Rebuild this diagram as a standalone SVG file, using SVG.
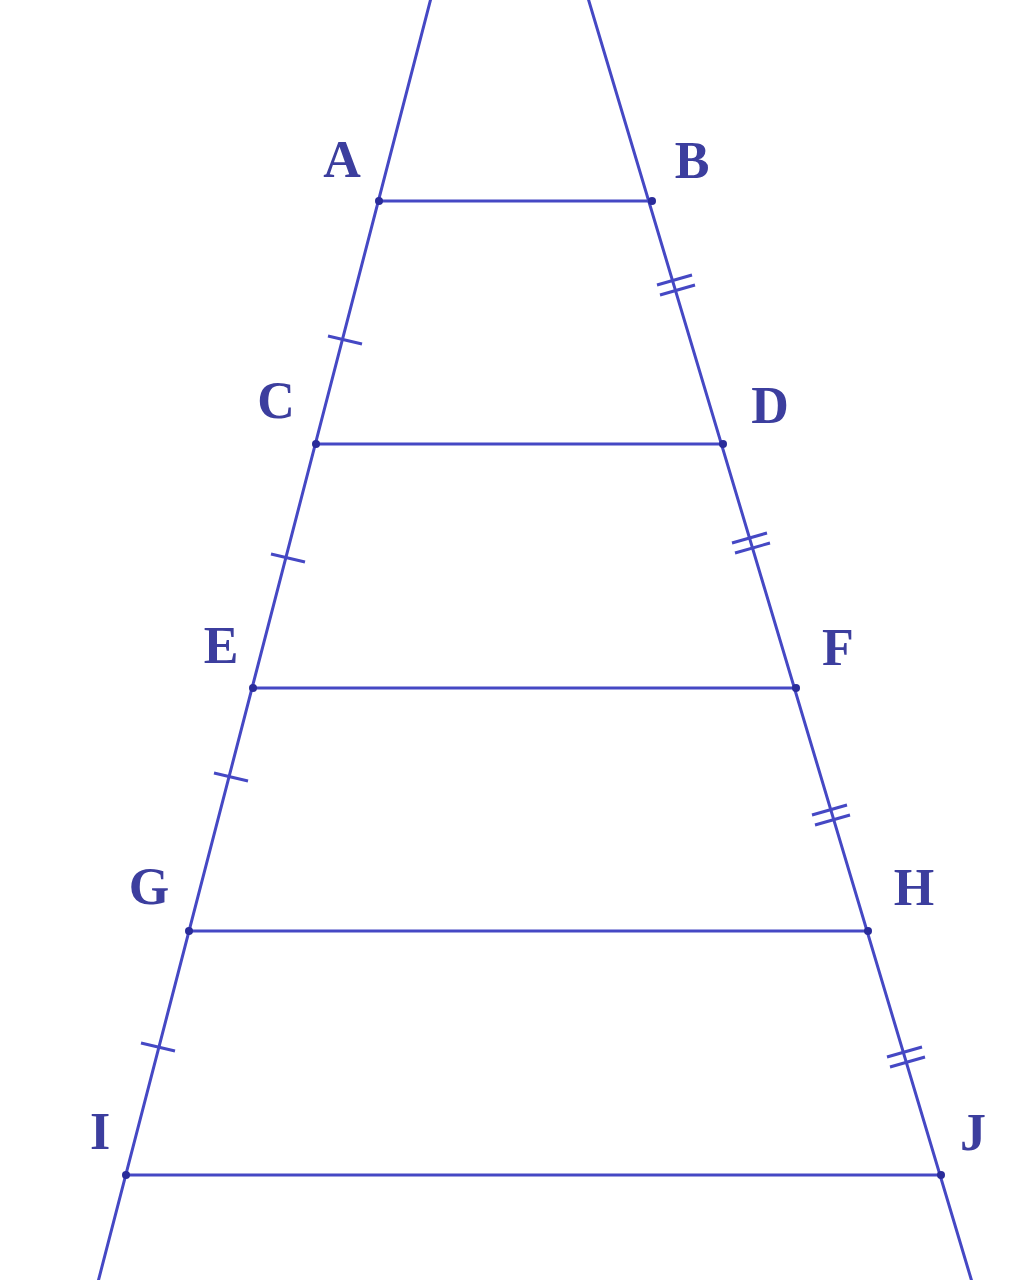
<svg xmlns="http://www.w3.org/2000/svg" width="1024" height="1280" viewBox="0 0 1024 1280">
<style>
.ln{stroke:#4548c4;stroke-width:3;fill:none;stroke-linecap:round}
.tk{stroke:#4548c4;stroke-width:3;fill:none}
.pt{fill:#2a2c9a}
.lb{font-family:"Liberation Serif",serif;font-size:52px;font-weight:bold;fill:#3c3e9e;text-anchor:middle}
</style>
<rect width="1024" height="1280" fill="#ffffff"/>
<g id="connectors">
<line class="ln" x1="431" y1="-2" x2="98" y2="1282"/>
<line class="ln" x1="588" y1="-2" x2="972" y2="1282"/>
<line class="ln" x1="379" y1="201" x2="652" y2="201"/>
<line class="ln" x1="316" y1="444" x2="723" y2="444"/>
<line class="ln" x1="253" y1="688" x2="796" y2="688"/>
<line class="ln" x1="189" y1="931" x2="868" y2="931"/>
<line class="ln" x1="126" y1="1175" x2="941" y2="1175"/>
</g>
<g id="ticks">
<line class="tk" x1="328" y1="336" x2="362" y2="344"/>
<line class="tk" x1="271" y1="554" x2="305" y2="562"/>
<line class="tk" x1="214" y1="773" x2="248" y2="781"/>
<line class="tk" x1="141" y1="1043" x2="175" y2="1051"/>
<g transform="translate(675,285)"><line class="tk" x1="-18" y1="0" x2="17" y2="-10"/><line class="tk" x1="-15" y1="10" x2="20" y2="0"/></g>
<g transform="translate(750,543)"><line class="tk" x1="-18" y1="0" x2="17" y2="-10"/><line class="tk" x1="-15" y1="10" x2="20" y2="0"/></g>
<g transform="translate(830,815)"><line class="tk" x1="-18" y1="0" x2="17" y2="-10"/><line class="tk" x1="-15" y1="10" x2="20" y2="0"/></g>
<g transform="translate(905,1057)"><line class="tk" x1="-18" y1="0" x2="17" y2="-10"/><line class="tk" x1="-15" y1="10" x2="20" y2="0"/></g>
</g>
<g id="A"><circle class="pt" cx="379" cy="201" r="4"/><text class="lb" x="342" y="177">A</text></g>
<g id="B"><circle class="pt" cx="652" cy="201" r="4"/><text class="lb" x="692" y="178">B</text></g>
<g id="C"><circle class="pt" cx="316" cy="444" r="4"/><text class="lb" x="276" y="418">C</text></g>
<g id="D"><circle class="pt" cx="723" cy="444" r="4"/><text class="lb" x="770" y="423">D</text></g>
<g id="E"><circle class="pt" cx="253" cy="688" r="4"/><text class="lb" x="221" y="663">E</text></g>
<g id="F"><circle class="pt" cx="796" cy="688" r="4"/><text class="lb" x="838" y="665">F</text></g>
<g id="G"><circle class="pt" cx="189" cy="931" r="4"/><text class="lb" x="149" y="904">G</text></g>
<g id="H"><circle class="pt" cx="868" cy="931" r="4"/><text class="lb" x="914" y="905">H</text></g>
<g id="I"><circle class="pt" cx="126" cy="1175" r="4"/><text class="lb" x="100" y="1149">I</text></g>
<g id="J"><circle class="pt" cx="941" cy="1175" r="4"/><text class="lb" x="973" y="1150">J</text></g>
</svg>
